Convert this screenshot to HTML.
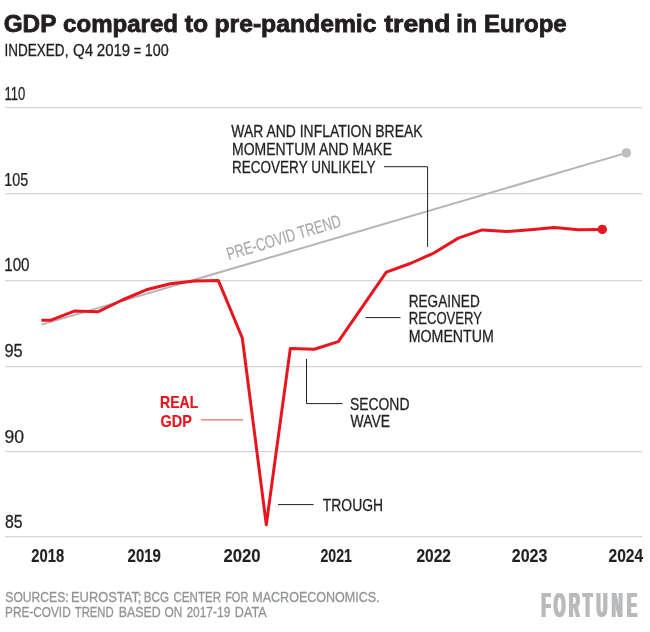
<!DOCTYPE html>
<html><head><meta charset="utf-8"><title>GDP compared to pre-pandemic trend in Europe</title>
<style>
html,body{margin:0;padding:0;background:#fff;}
svg{display:block;font-family:"Liberation Sans",sans-serif;}
</style></head>
<body>
<svg width="650" height="632" viewBox="0 0 650 632">
<defs><filter id="fat" x="-5%" y="-5%" width="110%" height="110%"><feMorphology operator="dilate" radius="1 0"/></filter></defs>
<rect width="650" height="632" fill="#fff"/>
<g stroke="#d3d4d5" stroke-width="1.2"><line x1="5" x2="642" y1="107.6" y2="107.6"/><line x1="5" x2="642" y1="193.7" y2="193.7"/><line x1="5" x2="642" y1="280.6" y2="280.6"/><line x1="5" x2="642" y1="366.6" y2="366.6"/><line x1="5" x2="642" y1="451.6" y2="451.6"/><line x1="5" x2="642" y1="536.6" y2="536.6"/></g>
<line x1="41.4" y1="324.6" x2="626.4" y2="152.9" stroke="#b4b5b8" stroke-width="2"/>
<circle cx="626.4" cy="152.9" r="4.7" fill="#bcbdc0"/>
<polyline points="41.4,320.3 50.3,320.3 74.3,311.1 98.3,311.7 122.3,300.0 146.3,289.8 170.3,283.7 194.3,281.0 218.3,280.4 242.3,338.0 266.3,524.7 290.3,348.6 314.3,349.3 338.3,341.6 362.3,306.9 386.3,272.2 410.3,263.5 434.3,252.8 458.3,238.1 482.3,229.9 506.3,231.6 530.3,229.8 554.3,227.5 578.3,229.8 602.3,229.4" fill="none" stroke="#e8141e" stroke-width="3" stroke-linejoin="round"/>
<circle cx="602.3" cy="229.4" r="4.7" fill="#e8141e"/>
<g stroke="#231f20" stroke-width="1" fill="none">
<polyline points="384.1,166.7 427.6,166.7 427.6,246.9"/>
<line x1="365.4" y1="317.6" x2="400.5" y2="317.6"/>
<polyline points="306.5,359 306.5,403.6 342.6,403.6"/>
<line x1="278" y1="504.6" x2="313.6" y2="504.6"/>
</g>
<line x1="201.1" y1="419.9" x2="243.1" y2="419.9" stroke="#e8141e" stroke-width="0.8"/>
<text transform="translate(3.69,32.25) scale(1.0329,1)" font-size="23.55" font-weight="bold" fill="#231f20" stroke="#231f20" stroke-width="0.8">GDP</text>
<text transform="translate(63.05,32.25) scale(1.0227,1)" font-size="23.55" font-weight="bold" fill="#231f20" stroke="#231f20" stroke-width="0.8">compared</text>
<text transform="translate(184.74,32.25) scale(1.0493,1)" font-size="23.55" font-weight="bold" fill="#231f20" stroke="#231f20" stroke-width="0.8">to</text>
<text transform="translate(214.45,32.25) scale(1.0500,1)" font-size="23.55" font-weight="bold" fill="#231f20" stroke="#231f20" stroke-width="0.8">pre-pandemic</text>
<text transform="translate(384.25,32.25) scale(1.1255,1)" font-size="23.55" font-weight="bold" fill="#231f20" stroke="#231f20" stroke-width="0.8">trend</text>
<text transform="translate(456.28,32.25) scale(0.9966,1)" font-size="23.55" font-weight="bold" fill="#231f20" stroke="#231f20" stroke-width="0.8">in</text>
<text transform="translate(484.05,32.25) scale(1.0183,1)" font-size="23.55" font-weight="bold" fill="#231f20" stroke="#231f20" stroke-width="0.8">Europe</text>
<text transform="translate(4.44,56.40) scale(0.8039,1)" font-size="16.86" font-weight="normal" fill="#231f20" stroke="#231f20" stroke-width="0.3">INDEXED,</text>
<text transform="translate(72.89,56.40) scale(0.8978,1)" font-size="16.86" font-weight="normal" fill="#231f20" stroke="#231f20" stroke-width="0.3">Q4</text>
<text transform="translate(96.79,56.40) scale(0.8922,1)" font-size="16.86" font-weight="normal" fill="#231f20" stroke="#231f20" stroke-width="0.3">2019</text>
<text transform="translate(133.86,56.40) scale(0.7537,1)" font-size="16.86" font-weight="normal" fill="#231f20" stroke="#231f20" stroke-width="0.3">=</text>
<text transform="translate(144.75,56.40) scale(0.8517,1)" font-size="16.86" font-weight="normal" fill="#231f20" stroke="#231f20" stroke-width="0.3">100</text>
<text transform="translate(4.38,99.80) scale(0.7121,1)" font-size="18.31" font-weight="normal" fill="#231f20" stroke="#231f20" stroke-width="0.25">110</text>
<text transform="translate(4.30,185.80) scale(0.7849,1)" font-size="18.31" font-weight="normal" fill="#231f20" stroke="#231f20" stroke-width="0.25">105</text>
<text transform="translate(4.25,270.90) scale(0.8272,1)" font-size="18.31" font-weight="normal" fill="#231f20" stroke="#231f20" stroke-width="0.25">100</text>
<text transform="translate(4.47,356.80) scale(0.8956,1)" font-size="18.31" font-weight="normal" fill="#231f20" stroke="#231f20" stroke-width="0.25">95</text>
<text transform="translate(4.42,442.70) scale(0.9630,1)" font-size="18.31" font-weight="normal" fill="#231f20" stroke="#231f20" stroke-width="0.25">90</text>
<text transform="translate(5.05,527.50) scale(0.8659,1)" font-size="18.31" font-weight="normal" fill="#231f20" stroke="#231f20" stroke-width="0.25">85</text>
<text transform="translate(31.34,561.50) scale(0.8123,1)" font-size="18.17" font-weight="bold" fill="#231f20" stroke="#231f20" stroke-width="0.15">2018</text>
<text transform="translate(127.53,561.50) scale(0.8275,1)" font-size="18.17" font-weight="bold" fill="#231f20" stroke="#231f20" stroke-width="0.15">2019</text>
<text transform="translate(223.48,561.50) scale(0.9204,1)" font-size="18.17" font-weight="bold" fill="#231f20" stroke="#231f20" stroke-width="0.15">2020</text>
<text transform="translate(320.51,561.50) scale(0.7793,1)" font-size="18.17" font-weight="bold" fill="#231f20" stroke="#231f20" stroke-width="0.15">2021</text>
<text transform="translate(416.46,561.50) scale(0.8541,1)" font-size="18.17" font-weight="bold" fill="#231f20" stroke="#231f20" stroke-width="0.15">2022</text>
<text transform="translate(511.85,561.50) scale(0.8783,1)" font-size="18.17" font-weight="bold" fill="#231f20" stroke="#231f20" stroke-width="0.15">2023</text>
<text transform="translate(608.46,561.50) scale(0.8595,1)" font-size="18.17" font-weight="bold" fill="#231f20" stroke="#231f20" stroke-width="0.15">2024</text>
<text transform="translate(231.30,137.00) scale(0.8060,1)" font-size="17.30" font-weight="normal" fill="#231f20" stroke="#231f20" stroke-width="0.3">WAR AND INFLATION BREAK</text>
<text transform="translate(232.01,155.00) scale(0.8088,1)" font-size="17.30" font-weight="normal" fill="#231f20" stroke="#231f20" stroke-width="0.3">MOMENTUM AND MAKE</text>
<text transform="translate(232.04,173.00) scale(0.7819,1)" font-size="17.30" font-weight="normal" fill="#231f20" stroke="#231f20" stroke-width="0.3">RECOVERY UNLIKELY</text>
<text transform="translate(408.74,306.90) scale(0.7863,1)" font-size="17.30" font-weight="normal" fill="#231f20" stroke="#231f20" stroke-width="0.3">REGAINED</text>
<text transform="translate(408.78,324.40) scale(0.7566,1)" font-size="17.30" font-weight="normal" fill="#231f20" stroke="#231f20" stroke-width="0.3">RECOVERY</text>
<text transform="translate(408.69,342.00) scale(0.8213,1)" font-size="17.30" font-weight="normal" fill="#231f20" stroke="#231f20" stroke-width="0.3">MOMENTUM</text>
<text transform="translate(349.91,409.60) scale(0.8050,1)" font-size="17.30" font-weight="normal" fill="#231f20" stroke="#231f20" stroke-width="0.3">SECOND</text>
<text transform="translate(350.60,427.40) scale(0.8037,1)" font-size="17.30" font-weight="normal" fill="#231f20" stroke="#231f20" stroke-width="0.3">WAVE</text>
<text transform="translate(322.78,511.00) scale(0.8053,1)" font-size="17.30" font-weight="normal" fill="#231f20" stroke="#231f20" stroke-width="0.3">TROUGH</text>
<text transform="translate(160.12,408.40) scale(0.8186,1)" font-size="17.15" font-weight="bold" fill="#e8141e" stroke="#e8141e" stroke-width="0.2">REAL</text>
<text transform="translate(160.55,426.50) scale(0.8430,1)" font-size="17.15" font-weight="bold" fill="#e8141e" stroke="#e8141e" stroke-width="0.2">GDP</text>
<text transform="translate(5.32,601.60) scale(0.8020,1)" font-size="15.12" font-weight="normal" fill="#929497" stroke="#929497" stroke-width="0.3">SOURCES:</text>
<text transform="translate(70.99,601.60) scale(0.8527,1)" font-size="15.12" font-weight="normal" fill="#929497" stroke="#929497" stroke-width="0.3">EUROSTAT;</text>
<text transform="translate(143.73,601.60) scale(0.7753,1)" font-size="15.12" font-weight="normal" fill="#929497" stroke="#929497" stroke-width="0.3">BCG</text>
<text transform="translate(173.46,601.60) scale(0.7658,1)" font-size="15.12" font-weight="normal" fill="#929497" stroke="#929497" stroke-width="0.3">CENTER</text>
<text transform="translate(225.14,601.60) scale(0.7284,1)" font-size="15.12" font-weight="normal" fill="#929497" stroke="#929497" stroke-width="0.3">FOR</text>
<text transform="translate(252.27,601.60) scale(0.8297,1)" font-size="15.12" font-weight="normal" fill="#929497" stroke="#929497" stroke-width="0.3">MACROECONOMICS.</text>
<text transform="translate(5.03,616.50) scale(0.7821,1)" font-size="15.12" font-weight="normal" fill="#929497" stroke="#929497" stroke-width="0.3">PRE-COVID</text>
<text transform="translate(74.77,616.50) scale(0.7475,1)" font-size="15.12" font-weight="normal" fill="#929497" stroke="#929497" stroke-width="0.3">TREND</text>
<text transform="translate(118.63,616.50) scale(0.8196,1)" font-size="15.12" font-weight="normal" fill="#929497" stroke="#929497" stroke-width="0.3">BASED</text>
<text transform="translate(164.39,616.50) scale(0.7867,1)" font-size="15.12" font-weight="normal" fill="#929497" stroke="#929497" stroke-width="0.3">ON</text>
<text transform="translate(186.39,616.50) scale(0.7922,1)" font-size="15.12" font-weight="normal" fill="#929497" stroke="#929497" stroke-width="0.3">2017-19</text>
<text transform="translate(234.81,616.50) scale(0.8346,1)" font-size="15.12" font-weight="normal" fill="#929497" stroke="#929497" stroke-width="0.3">DATA</text>
<g filter="url(#fat)"><text transform="scale(0.435,1)" x="1244.98 1272.72 1307.91 1340.08 1371.42 1406.25 1441.11" y="616.7" font-size="34.30" font-weight="bold" fill="#b9babc">FORTUNE</text></g>
<text transform="translate(229.60,259.90) rotate(-16.69) scale(0.7220,1) translate(-1.39,0)" font-size="17.73" fill="#a7a9ac" stroke="#a7a9ac" stroke-width="0.2">PRE-COVID TREND</text>
</svg>
</body></html>
